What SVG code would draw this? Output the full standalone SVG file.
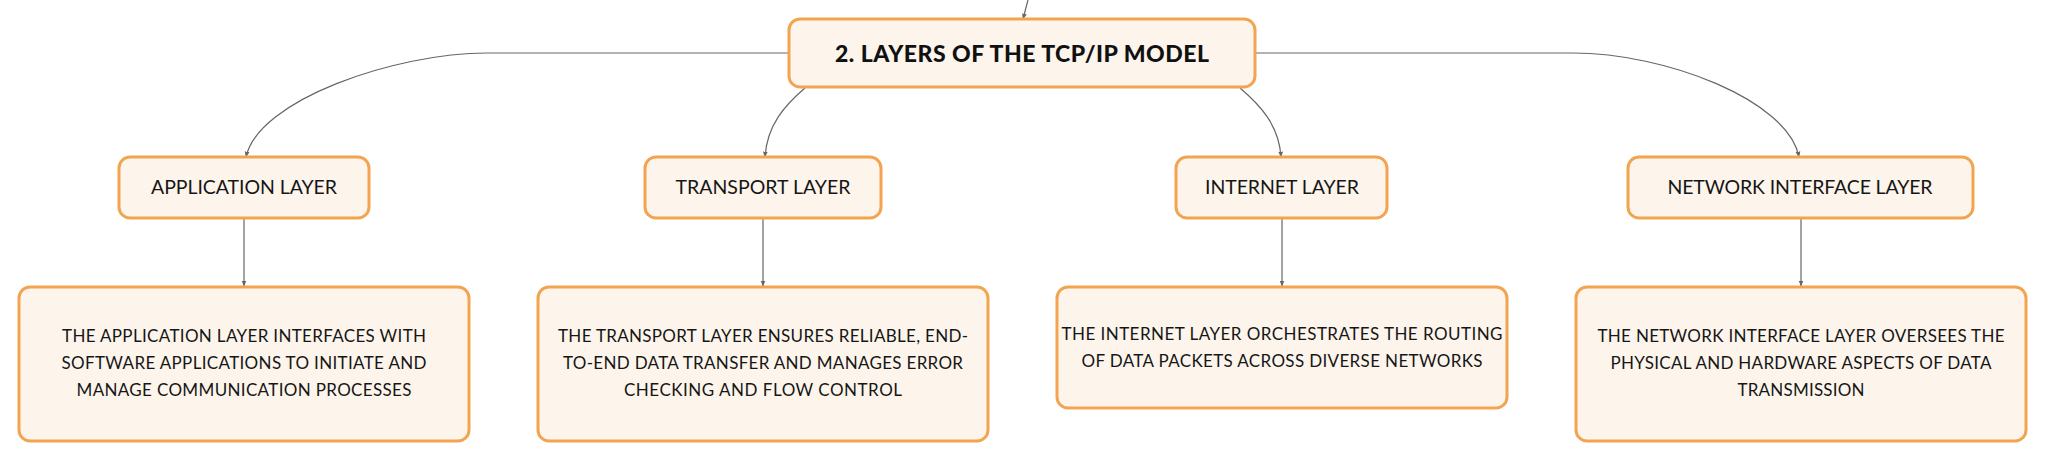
<svg xmlns="http://www.w3.org/2000/svg" width="2046" height="461" viewBox="0 0 2046 461">
<defs>
<marker id="arr" viewBox="0 0 10 10" refX="9" refY="5" markerWidth="6" markerHeight="6" markerUnits="userSpaceOnUse" orient="auto">
<path d="M0,1 L10,5 L0,9 z" fill="#666"/>
</marker>
<style>
.box{fill:#FDF5EC;stroke:#F2A451;stroke-width:3}
.lbl{font-family:Lato,"Noto Sans","Liberation Sans",sans-serif;font-size:19.5px;fill:#161616;text-anchor:middle}
.dsc{font-family:Lato,"Noto Sans","Liberation Sans",sans-serif;font-size:17px;fill:#161616;text-anchor:middle}
.ttl{font-family:Lato,"Noto Sans","Liberation Sans",sans-serif;font-size:23px;font-weight:900;fill:#111;text-anchor:middle}
.con{fill:none;stroke:#666;stroke-width:1.2;marker-end:url(#arr)}
</style>
</defs>
<rect width="2046" height="461" fill="#fff"/>
<g id="connectors">
<path class="con" d="M1028,0 C1026,7 1025,12 1023,19"/>
<path class="con" d="M789,53 L487,53 C395,53 258,100 246,157"/>
<path class="con" d="M805,88 C785,105 767,125 765,157"/>
<path class="con" d="M1240,88 C1260,105 1279,125 1281,157"/>
<path class="con" d="M1256,53 L1573,53 C1665,53 1788,100 1799,157"/>
<path class="con" d="M244,218 L244,286"/>
<path class="con" d="M763,218 L763,286"/>
<path class="con" d="M1282,218 L1282,286"/>
<path class="con" d="M1801,218 L1801,286"/>
</g>
<g id="root">
<rect class="box" x="789" y="19" width="466" height="68" rx="11"/>
<text class="ttl" x="1022" y="62" textLength="374">2. LAYERS OF THE TCP/IP MODEL</text>
</g>
<g id="app">
<rect class="box" x="119" y="157" width="250" height="61" rx="11"/>
<text class="lbl" x="244" y="194" textLength="186">APPLICATION LAYER</text>
</g>
<g id="transport">
<rect class="box" x="645" y="157" width="236" height="61" rx="11"/>
<text class="lbl" x="763" y="194" textLength="175">TRANSPORT LAYER</text>
</g>
<g id="internet">
<rect class="box" x="1176" y="157" width="211" height="61" rx="11"/>
<text class="lbl" x="1282" y="194" textLength="154">INTERNET LAYER</text>
</g>
<g id="network">
<rect class="box" x="1628" y="157" width="345" height="61" rx="11"/>
<text class="lbl" x="1800" y="194" textLength="265">NETWORK INTERFACE LAYER</text>
</g>
<g id="app-desc">
<rect class="box" x="19" y="287" width="450" height="154" rx="11"/>
<text class="dsc" x="244" y="342" textLength="364">THE APPLICATION LAYER INTERFACES WITH</text>
<text class="dsc" x="244" y="369" textLength="365">SOFTWARE APPLICATIONS TO INITIATE AND</text>
<text class="dsc" x="244" y="396" textLength="335">MANAGE COMMUNICATION PROCESSES</text>
</g>
<g id="transport-desc">
<rect class="box" x="538" y="287" width="450" height="154" rx="11"/>
<text class="dsc" x="763" y="342" textLength="410">THE TRANSPORT LAYER ENSURES RELIABLE, END-</text>
<text class="dsc" x="763" y="369" textLength="400">TO-END DATA TRANSFER AND MANAGES ERROR</text>
<text class="dsc" x="763" y="396" textLength="278">CHECKING AND FLOW CONTROL</text>
</g>
<g id="internet-desc">
<rect class="box" x="1057" y="287" width="450" height="121" rx="11"/>
<text class="dsc" x="1282" y="340" textLength="441">THE INTERNET LAYER ORCHESTRATES THE ROUTING</text>
<text class="dsc" x="1282" y="367" textLength="401">OF DATA PACKETS ACROSS DIVERSE NETWORKS</text>
</g>
<g id="network-desc">
<rect class="box" x="1576" y="287" width="450" height="154" rx="11"/>
<text class="dsc" x="1801" y="342" textLength="407">THE NETWORK INTERFACE LAYER OVERSEES THE</text>
<text class="dsc" x="1801" y="369" textLength="381">PHYSICAL AND HARDWARE ASPECTS OF DATA</text>
<text class="dsc" x="1801" y="396" textLength="127">TRANSMISSION</text>
</g>
</svg>
